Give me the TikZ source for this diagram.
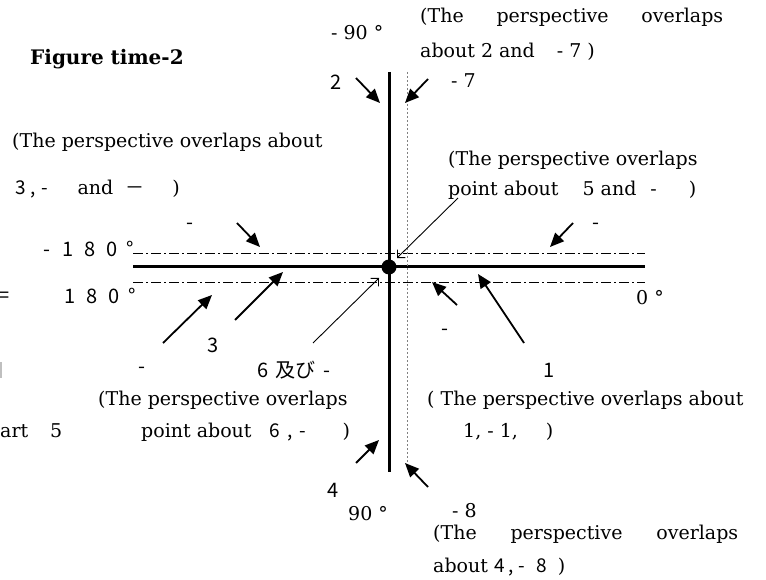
\documentclass[tikz,border=0pt]{standalone}
\usepackage{fontspec}
\setmainfont{DejaVu Serif}
\newfontfamily\jp{Noto Sans CJK JP}
\usetikzlibrary{arrows.meta}

\tikzset{
  sans/.style={font=\jp\fontsize{20}{24}\selectfont},
  axis/.style={line width=3pt},
  guide/.style={line width=0.8pt,dash pattern=on 10pt off 3pt on 2pt off 3pt},
  pointer/.style={line width=1.8pt,-{Triangle[length=14pt,width=12pt]}},
  thinptr/.style={line width=0.9pt,-{Straight Barb[angle=90:8pt]}}
}

\begin{document}
\begin{tikzpicture}[x=1pt,y=-1pt,every node/.style={inner sep=0pt,font=\fontsize{19}{22}\selectfont}]
  \useasboundingbox (0,0) rectangle (766,580);
  % title
  \node[anchor=base west,font=\bfseries\fontsize{20}{24}\selectfont] (title) at (30,65) {Figure time-2};
  % axes
  \draw[axis] (133,267) -- (645,267);
  \draw[axis] (389,72) -- (389,472);
  \draw[guide] (133,253) -- (645,253);
  \draw[guide] (133,282) -- (645,282);
  \draw[gray,line width=0.9pt,dash pattern=on 2pt off 2pt] (407,72) -- (407,462);
  \fill (389,267) circle (7.5);
  % angle labels
  \node[anchor=base west] (m90) at (331,40) {- 90 °};
  \node[anchor=base west,sans] (m180) at (43,257) {-\hspace{12pt}1\hspace{11pt}8\hspace{11pt}0\hspace{9pt}°};
  \node[sans] (eq) at (4,297) {=};
  \node[anchor=base west,sans] (p180) at (64,303) {1\hspace{11pt}8\hspace{11pt}0\hspace{9pt}°};
  \node[anchor=base west] (zero) at (636,304) {0 °};
  \node[anchor=base west] (p90) at (348,520) {90 °};
  % numbered pointers
  \node[sans] (n2) at (336,82) {2};
  \node[anchor=base west] (n7) at (451,88) {- 7};
  \node[sans] (d1) at (190,226) {-};
  \node[sans] (d2) at (596,226) {-};
  \node[sans] (n3) at (213,345) {3};
  \node[sans] (d3) at (142,370) {-};
  \node[anchor=west,sans] (n6) at (257,370) {6\hspace{3pt} 及び\hspace{3pt} -};
  \node[sans] (d4) at (445,332) {-};
  \node[sans] (n1) at (549,370) {1};
  \node[sans] (n4) at (333,490) {4};
  \node[anchor=base west] (n8) at (452,517) {- 8};
  % arrows
  \foreach \tx/\ty/\hx/\hy in {356/78/380/103, 428/79/405/103, 237/223/260/247,
      573/223/550/247, 163/343/212/295, 235/320/283/272, 524/343/478/274,
      457/305/432/282, 356/463/379/440, 428/487/405/463}
    \draw[pointer] (\tx,\ty) -- (\hx,\hy);
  \draw[thinptr] (458,198) -- (397,258);
  \draw[thinptr] (313,343) -- (379,278);
  % notes
  \node[anchor=base west] (c27a) at (420,23) {\makebox[303pt][s]{(The perspective overlaps}};
  \node[anchor=base west] (c27b) at (420,58) {about 2 and\hspace{22pt}- 7 )};
  \node[anchor=base west] (c3a) at (12,148) {(The perspective overlaps about};
  \node[anchor=base west] (c3b) at (15,195) {{\jp 3\hspace{5pt},\hspace{5pt}-}\hspace{30pt}and\hspace{12pt}{\jp －}\hspace{28pt})};
  \node[anchor=base west] (c5a) at (448,166) {(The perspective overlaps};
  \node[anchor=base west] (c5b) at (448,196) {point about\hspace{24pt}5 and\hspace{14pt}-\hspace{32pt})};
  \node[anchor=base west] (c6a) at (98,405) {(The perspective overlaps};
  \node[anchor=base west] (c6b) at (141,437) {point about\hspace{18pt}{\jp 6\hspace{3pt} ,\hspace{3pt} -}\hspace{36pt})};
  \node[anchor=base west] (c5l) at (0,437) {art\hspace{22pt}5};
  \draw[gray!50,line width=1.5pt] (1,362) -- (1,378);
  \node[anchor=base west] (c1a) at (427,405) {( The perspective overlaps about};
  \node[anchor=base west] (c1b) at (463,437) {1, - 1,\hspace{28pt})};
  \node[anchor=base west] (c48a) at (433,539) {\makebox[305pt][s]{(The perspective overlaps}};
  \node[anchor=base west] (c48b) at (433,572) {about {\jp 4 , -\hspace{12pt}8 }\hspace{6pt})};
\end{tikzpicture}
\end{document}
